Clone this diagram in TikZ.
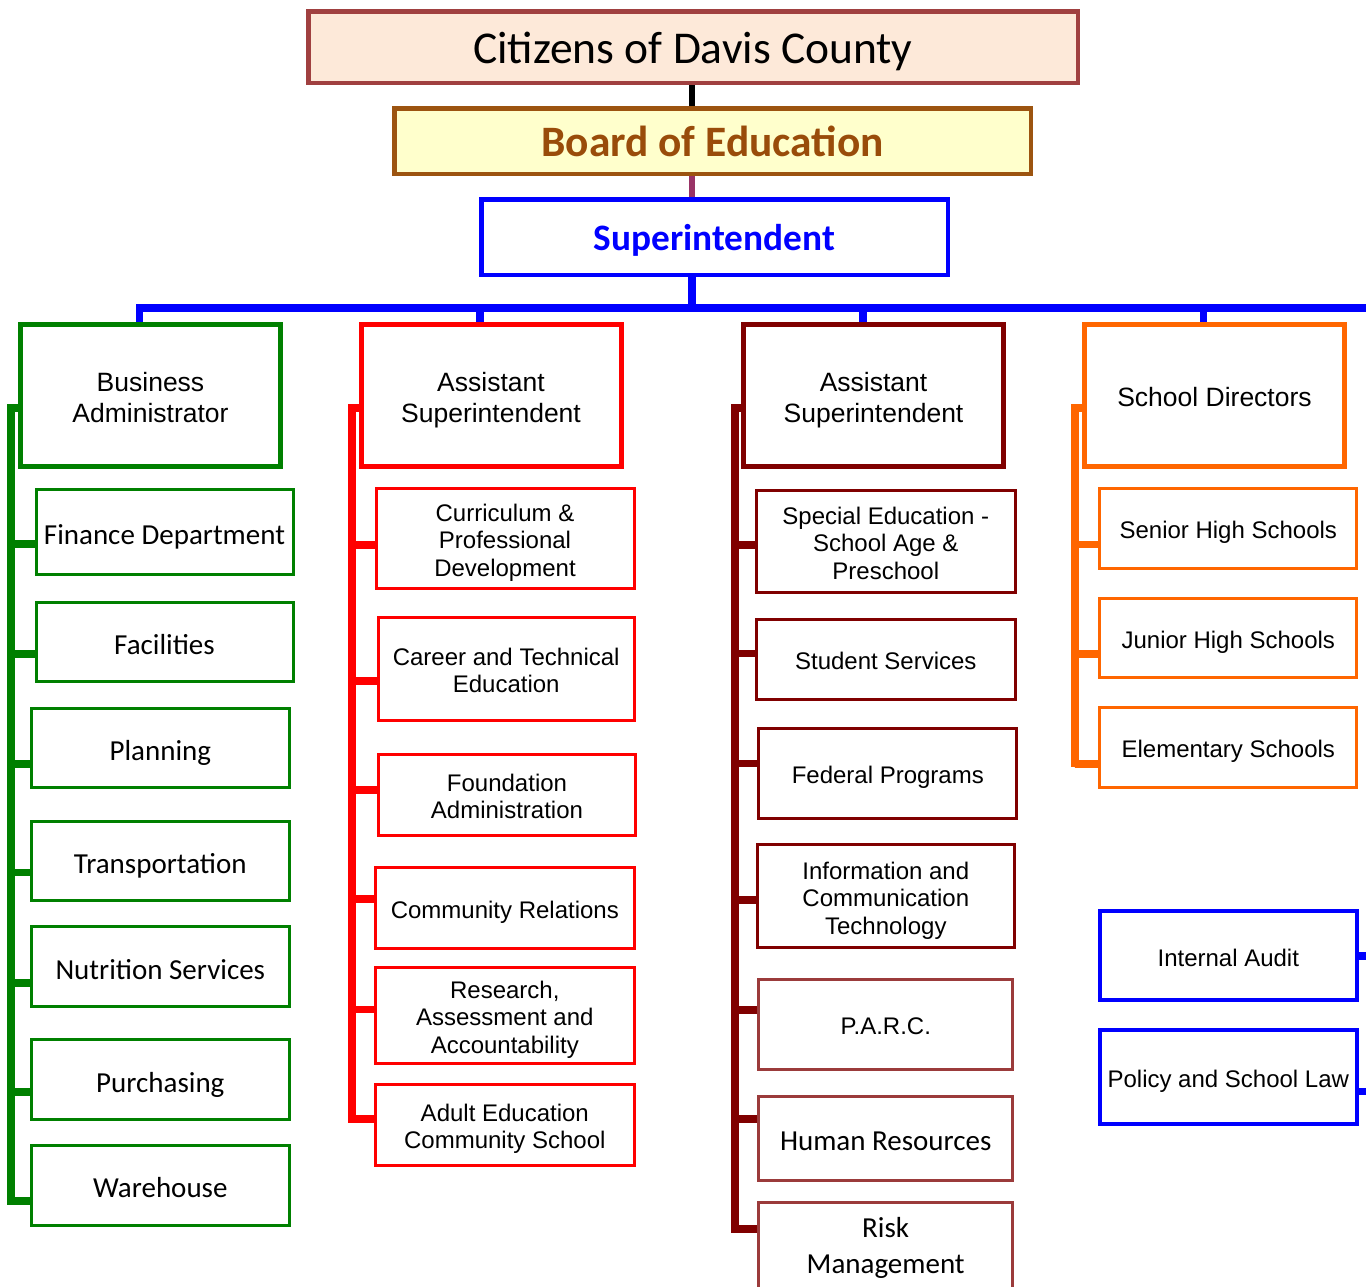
\documentclass[tikz,border=0pt]{standalone}
\usepackage{fontspec}
\setmainfont{Liberation Sans}
\newfontfamily\calfont{Carlito}
\newcommand\arfirst{\vrule width 0pt height 1.2em depth 0pt\relax}
\newcommand\calfirst{\vrule width 0pt height 0.86em depth 0pt\relax}
\definecolor{gcol}{HTML}{008000}
\definecolor{rcol}{HTML}{FF0000}
\definecolor{dcol}{HTML}{800000}
\definecolor{dlcol}{HTML}{9B3B3B}
\definecolor{ocol}{HTML}{FF6600}
\definecolor{bcol}{HTML}{0000FF}
\definecolor{citfill}{HTML}{FDE9D9}
\definecolor{citdraw}{HTML}{A04040}
\definecolor{boefill}{HTML}{FFFFCC}
\definecolor{boedraw}{HTML}{9C5410}
\definecolor{boetext}{HTML}{994C0A}
\definecolor{purp}{HTML}{993366}
\tikzset{
  box/.style={rectangle, inner sep=0pt, align=center},
  arstrut/.style={execute at begin node={\vrule width 0pt height 1.2em depth 0pt\relax},
                  execute at end node={\vrule width 0pt height 0pt depth 0.35em\relax}},
  calstrut/.style={execute at begin node={\vrule width 0pt height 1.07em depth 0pt\relax},
                   execute at end node={\vrule width 0pt height 0pt depth 0.35em\relax}},
  arbig/.style={font=\fontsize{26.5}{31}\selectfont, arstrut},
  arsmall/.style={font=\fontsize{24}{27.5}\selectfont, arstrut},
  calsmall/.style={font=\calfont\fontsize{29}{36}\selectfont, calstrut},
  headbox/.style={box, line width=5pt, arbig, minimum width=260, minimum height=142},
  kidbox/.style={box, line width=3pt, arsmall},
  gline/.style={draw=gcol, line width=7.7pt},
  rline/.style={draw=rcol, line width=7.7pt},
  dline/.style={draw=dcol, line width=7.5pt},
  oline/.style={draw=ocol, line width=7.7pt},
  bline/.style={draw=bcol, line width=7.5pt},
}
\begin{document}
\begin{tikzpicture}[x=1pt,y=-1pt]
\path[use as bounding box, fill=white] (0,0) rectangle (1366,1286);

% top chain
\node[box, calstrut, draw=citdraw, fill=citfill, line width=4.5pt, minimum width=769.5, minimum height=71.5,
      font=\calfont\fontsize{45.5}{50}\selectfont] (cit) at (693,47) {Citizens of Davis County};
\node[box, calstrut, draw=boedraw, fill=boefill, line width=4.5pt, minimum width=636.5, minimum height=65.5,
      text=boetext, font=\calfont\bfseries\fontsize{43.4}{48}\selectfont] (boe) at (712.5,141) {Board of Education};
\node[box, calstrut, draw=bcol, line width=4.5pt, minimum width=466.5, minimum height=75.5,
      text=bcol, font=\calfont\bfseries\fontsize{37.3}{42}\selectfont] (sup) at (714.5,237) {Superintendent};

\coordinate (spine) at (691.8,0);
\coordinate (busR) at (1380,308);
\draw[draw=black, line width=6pt] (cit.south -| spine) -- (boe.north -| spine);
\draw[draw=purp, line width=6pt] (boe.south -| spine) -- (sup.north -| spine);
\draw[bline] (sup.south -| spine) |- (busR);

% level two
\node[headbox, draw=gcol] (ba) at (150.5,395.5) {\arfirst Business\\Administrator};
\node[headbox, draw=rcol] (asa) at (491,395.5) {\arfirst Assistant\\Superintendent};
\node[headbox, draw=dcol] (asb) at (873.5,395.5) {\arfirst Assistant\\Superintendent};
\node[headbox, draw=ocol] (sd) at (1214.5,395.5) {School Directors};

\draw[bline] ([xshift=-11pt]ba.north) |- (busR);
\draw[bline] ([xshift=-11pt]asa.north) |- (busR);
\draw[bline] ([xshift=-10.5pt]asb.north) |- (busR);
\draw[bline] ([xshift=-11pt]sd.north) |- (busR);

% green column
\node[kidbox, draw=gcol, calsmall, minimum width=257, minimum height=85] (fin) at (164.5,532) {Finance Department};
\node[kidbox, draw=gcol, calsmall, minimum width=257, minimum height=79] (fac) at (164.5,642) {Facilities};
\node[kidbox, draw=gcol, calsmall, minimum width=257.7, minimum height=79.6] (pla) at (160.3,748) {Planning};
\node[kidbox, draw=gcol, calsmall, minimum width=257.7, minimum height=79.6] (tra) at (160.3,861) {Transportation};
\node[kidbox, draw=gcol, calsmall, minimum width=257.7, minimum height=79.6] (nut) at (160.3,966.7) {Nutrition Services};
\node[kidbox, draw=gcol, calsmall, minimum width=257.7, minimum height=79.6] (pur) at (160.3,1079.7) {Purchasing};
\node[kidbox, draw=gcol, calsmall, minimum width=257.7, minimum height=79.6] (war) at (160.3,1185.3) {Warehouse};
\coordinate (gbot) at (11.2,1204.5);
\draw[gline] ([yshift=-12.5pt]ba.west) -| (gbot);
\draw[gline] ([yshift=-12pt]fin.west) -| (gbot);
\draw[gline] ([yshift=-12pt]fac.west) -| (gbot);
\draw[gline] ([yshift=-16pt]pla.west) -| (gbot);
\draw[gline] ([yshift=-11.5pt]tra.west) -| (gbot);
\draw[gline] ([yshift=-16pt]nut.west) -| (gbot);
\draw[gline] ([yshift=-12pt]pur.west) -| (gbot);
\draw[gline] ([yshift=-15.5pt]war.west) -| (gbot);

% red column
\node[kidbox, draw=rcol, minimum width=258, minimum height=99.7] (cur) at (505,538.7) {\arfirst Curriculum \&\\Professional\\Development};
\node[kidbox, draw=rcol, minimum width=256, minimum height=102.7] (car) at (506.2,668.8) {\arfirst Career and Technical\\Education};
\node[kidbox, draw=rcol, minimum width=257.6, minimum height=80.4] (fou) at (507,795) {\arfirst Foundation\\Administration};
\node[kidbox, draw=rcol, minimum width=258.7, minimum height=81] (com) at (504.8,908) {Community Relations};
\node[kidbox, draw=rcol, minimum width=258.7, minimum height=96] (res) at (504.8,1015.5) {\arfirst Research,\\Assessment and\\Accountability};
\node[kidbox, draw=rcol, minimum width=258.7, minimum height=80.4] (adu) at (504.8,1125) {\arfirst Adult Education\\Community School};
\coordinate (rbot) at (352,1122.7);
\draw[rline] ([yshift=-12.5pt]asa.west) -| (rbot);
\draw[rline] ([yshift=-6.3pt]cur.west) -| (rbot);
\draw[rline] ([yshift=-12pt]car.west) -| (rbot);
\draw[rline] ([yshift=4.7pt]fou.west) -| (rbot);
\draw[rline] ([yshift=9pt]com.west) -| (rbot);
\draw[rline] ([yshift=6pt]res.west) -| (rbot);
\draw[rline] ([yshift=6.2pt]adu.west) -| (rbot);

% dark red column
\node[kidbox, draw=dcol, minimum width=258.7, minimum height=101.7] (spe) at (885.8,541.7) {\arfirst Special Education -\\School Age \&\\Preschool};
\node[kidbox, draw=dcol, minimum width=258.7, minimum height=79.4] (stu) at (885.8,659.5) {Student Services};
\node[kidbox, draw=dcol, minimum width=258, minimum height=89.7] (fed) at (887.8,773.7) {Federal Programs};
\node[kidbox, draw=dcol, minimum width=257.3, minimum height=103] (ict) at (885.8,896.3) {\arfirst Information and\\Communication\\Technology};
\node[kidbox, draw=dlcol, minimum width=254, minimum height=90.3] (parc) at (885.8,1024.3) {P.A.R.C.};
\node[kidbox, draw=dlcol, calsmall, minimum width=253.7, minimum height=83.7] (hr) at (885.7,1138.3) {Human Resources};
\node[kidbox, draw=dlcol, calsmall, minimum width=253.7, minimum height=91] (risk) at (885.7,1247.8) {\calfirst Risk\\Management};
\coordinate (dbot) at (735,1232.7);
\draw[dline] ([yshift=-12.5pt]asb.west) -| (dbot);
\draw[dline] ([yshift=-3.3pt]spe.west) -| (dbot);
\draw[dline] ([yshift=6pt]stu.west) -| (dbot);
\draw[dline] ([yshift=10.2pt]fed.west) -| (dbot);
\draw[dline] ([yshift=-3.7pt]ict.west) -| (dbot);
\draw[dline] ([yshift=14.3pt]parc.west) -| (dbot);
\draw[dline] ([yshift=19.3pt]hr.west) -| (dbot);
\draw[dline] ([yshift=18.8pt]risk.west) -| (dbot);

% orange column
\node[kidbox, draw=ocol, minimum width=257, minimum height=79.7] (sen) at (1228.3,528.7) {Senior High Schools};
\node[kidbox, draw=ocol, minimum width=257, minimum height=79.7] (jun) at (1228.3,638) {Junior High Schools};
\node[kidbox, draw=ocol, minimum width=257, minimum height=80.3] (ele) at (1228.3,747.7) {Elementary Schools};
\coordinate (obot) at (1075.2,767.3);
\draw[oline] ([yshift=-12.5pt]sd.west) -| (obot);
\draw[oline] ([yshift=-15.8pt]sen.west) -| (obot);
\draw[oline] ([yshift=-15.7pt]jun.west) -| (obot);
\draw[oline] ([yshift=-16pt]ele.west) -| (obot);

% blue staff boxes
\node[kidbox, draw=bcol, line width=4pt, minimum width=257.3, minimum height=89] (ia) at (1228.3,955.8) {Internal Audit};
\node[kidbox, draw=bcol, line width=4pt, minimum width=257.3, minimum height=93.4] (pol) at (1228.3,1077) {Policy and School Law};
\coordinate (iaR) at (1380,955.8);
\coordinate (polR) at (1380,1091.7);
\draw[bline] (ia.east) -- (iaR);
\draw[bline] ([yshift=-14.7pt]pol.east) -- (polR);
\end{tikzpicture}
\end{document}
